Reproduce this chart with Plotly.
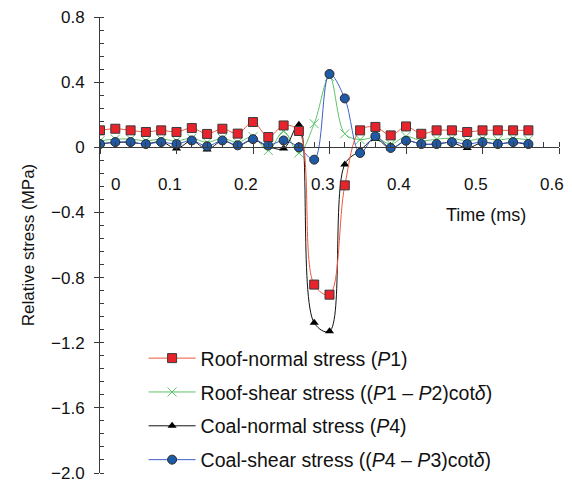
import plotly.graph_objects as go

# ---- data ----
time_ms = [0.00, 0.02, 0.04, 0.06, 0.08, 0.10, 0.12, 0.14, 0.16, 0.18,
           0.20, 0.22, 0.24, 0.26, 0.28, 0.30, 0.32, 0.34, 0.36, 0.38,
           0.40, 0.42, 0.44, 0.46, 0.48, 0.50, 0.52, 0.54, 0.56]

roof_normal = [0.104, 0.114, 0.104, 0.094, 0.104, 0.094, 0.118, 0.082, 0.114, 0.084,
               0.155, 0.063, 0.134, 0.100, -0.843, -0.905, -0.234, 0.104, 0.125, 0.073,
               0.128, 0.083, 0.104, 0.104, 0.094, 0.104, 0.104, 0.104, 0.104]

roof_shear = [0.040, 0.050, 0.050, 0.040, 0.050, 0.040, 0.055, 0.030, 0.055, 0.030,
              0.065, -0.020, 0.098, -0.035, 0.145, 0.435, 0.083, 0.047, 0.060, 0.020,
              0.067, 0.040, 0.050, 0.055, 0.040, 0.055, 0.045, 0.055, 0.045]

coal_normal = [0.020, 0.030, 0.030, 0.020, 0.035, -0.008, 0.040, -0.013, 0.040, 0.010,
               0.045, 0.005, -0.008, 0.139, -1.078, -1.130, -0.105, -0.020, 0.053, -0.008,
               0.040, 0.020, 0.020, 0.030, -0.005, 0.030, 0.020, 0.030, 0.015]

coal_shear = [0.020, 0.032, 0.032, 0.020, 0.032, 0.020, 0.042, 0.006, 0.042, 0.012,
              0.050, 0.012, 0.042, 0.000, -0.076, 0.450, 0.300, -0.035, 0.068, -0.004,
              0.040, 0.020, 0.020, 0.032, 0.020, 0.032, 0.020, 0.032, 0.020]

x_tick_vals = [0, 0.1, 0.2, 0.3, 0.4, 0.5, 0.6]
x_tick_text = ["0", "0.1", "0.2", "0.3", "0.4", "0.5", "0.6"]
y_tick_vals = [0.8, 0.4, 0, -0.4, -0.8, -1.2, -1.6, -2.0]
y_tick_text = ["0.8", "0.4", "0", "\u22120.4", "\u22120.8", "\u22121.2", "\u22121.6", "\u22122.0"]

FONT = "Liberation Sans, Arial, sans-serif"
AX = "#3a3a3a"

fig = go.Figure()

# draw order: green, black, blue, red (red on top); legend order via legendrank
fig.add_trace(go.Scatter(
    x=time_ms, y=roof_shear, mode="lines+markers",
    name="Roof-shear stress ((<i>P</i>1 \u2013 <i>P</i>2)cot<i>\u03b4</i>)",
    line=dict(color="#5cc46a", width=1, shape="spline", smoothing=1),
    marker=dict(symbol="x-thin-open", size=9, color="#5cc46a", line=dict(color="#5cc46a", width=1)),
    legendrank=2, legendgroup="g2"))
fig.add_trace(go.Scatter(
    x=time_ms, y=coal_normal, mode="lines+markers",
    name="Coal-normal stress (<i>P</i>4)",
    line=dict(color="#111111", width=1, shape="spline", smoothing=1),
    marker=dict(symbol="triangle-up", size=8, color="#000000"),
    legendrank=3, legendgroup="g3"))
fig.add_trace(go.Scatter(
    x=time_ms, y=coal_shear, mode="lines+markers",
    name="Coal-shear stress ((<i>P</i>4 \u2013 <i>P</i>3)cot<i>\u03b4</i>)",
    line=dict(color="#3f5fc8", width=1, shape="spline", smoothing=1),
    marker=dict(symbol="circle", size=9, color="#1f5aa6", line=dict(color="#2a2a2a", width=1)),
    legendrank=4, legendgroup="g4"))
fig.add_trace(go.Scatter(
    x=time_ms, y=roof_normal, mode="lines+markers",
    name="Roof-normal stress (<i>P</i>1)",
    line=dict(color="#f0583c", width=1, shape="spline", smoothing=1),
    marker=dict(symbol="square", size=9, color="#e8232b", line=dict(color="#3a3a3a", width=1)),
    legendrank=1, legendgroup="g1"))

# overlay trace for crossing major ticks
fig.add_trace(go.Scatter(x=[None], y=[None], xaxis="x2", yaxis="y2", showlegend=False, hoverinfo="skip"))

x_pos = (0 - (-2.0)) / (0.8 - (-2.0))

# page body has an 8px margin: figure placed at (8, 8)
fig.update_layout(
    width=564, height=479,
    margin=dict(l=92, r=13, t=9, b=14, autoexpand=False),
    paper_bgcolor="white", plot_bgcolor="white",
    font=dict(family=FONT, size=17, color="#111111"),
    showlegend=True,
    legend=dict(x=0.095, y=0.294, xanchor="left", yanchor="top",
                font=dict(family=FONT, size=19.5, color="#111111"),
                bgcolor="rgba(0,0,0,0)", tracegroupgap=5.5, traceorder="grouped",
                itemwidth=47),
    xaxis=dict(range=[0, 0.6], anchor="free", position=x_pos, showline=True,
               linecolor=AX, linewidth=1, showgrid=False, zeroline=False,
               tickvals=x_tick_vals, showticklabels=False,
               ticks="outside", ticklen=6, tickcolor=AX, tickwidth=1,
               minor=dict(dtick=0.02, tick0=0, ticks="inside", ticklen=5, tickcolor=AX, tickwidth=1),
               automargin=False),
    yaxis=dict(range=[-2.0, 0.8], showline=True, linecolor=AX, linewidth=1,
               showgrid=False, zeroline=False,
               tickvals=y_tick_vals, ticktext=y_tick_text,
               ticks="outside", ticklen=5, tickcolor=AX, tickwidth=1,
               minor=dict(dtick=0.08, tick0=0, ticks="inside", ticklen=4, tickcolor=AX, tickwidth=1),
               tickfont=dict(family=FONT, size=17, color="#111111"),
               ticklabelstandoff=6, ticklabeloverflow="allow",
               title=dict(text="Relative stress (MPa)", standoff=12,
                          font=dict(family=FONT, size=17, color="#111111")),
               automargin=False),
    xaxis2=dict(range=[0, 0.6], overlaying="x", anchor="free", position=x_pos,
                showline=False, showgrid=False, zeroline=False, tickvals=x_tick_vals,
                showticklabels=False, ticks="inside", ticklen=6, tickcolor=AX, side="bottom"),
    yaxis2=dict(range=[-2.0, 0.8], overlaying="y", anchor="x", showline=False, showgrid=False,
                zeroline=False, tickvals=y_tick_vals, showticklabels=False,
                ticks="inside", ticklen=4, tickcolor=AX),
)

# x tick labels (placed below axis, offset as in reference)
for v, t in zip(x_tick_vals, x_tick_text):
    fig.add_annotation(x=v, y=0, xref="x", yref="y", text=t, showarrow=False,
                       xshift=(15 if v == 0 else -7), yshift=-37,
                       font=dict(family=FONT, size=17, color="#111111"))

fig.add_annotation(x=0.505, y=0, xref="x", yref="y", text="Time (ms)", showarrow=False,
                   yshift=-68, font=dict(family=FONT, size=18, color="#111111"))

fig.write_html("out.html")
